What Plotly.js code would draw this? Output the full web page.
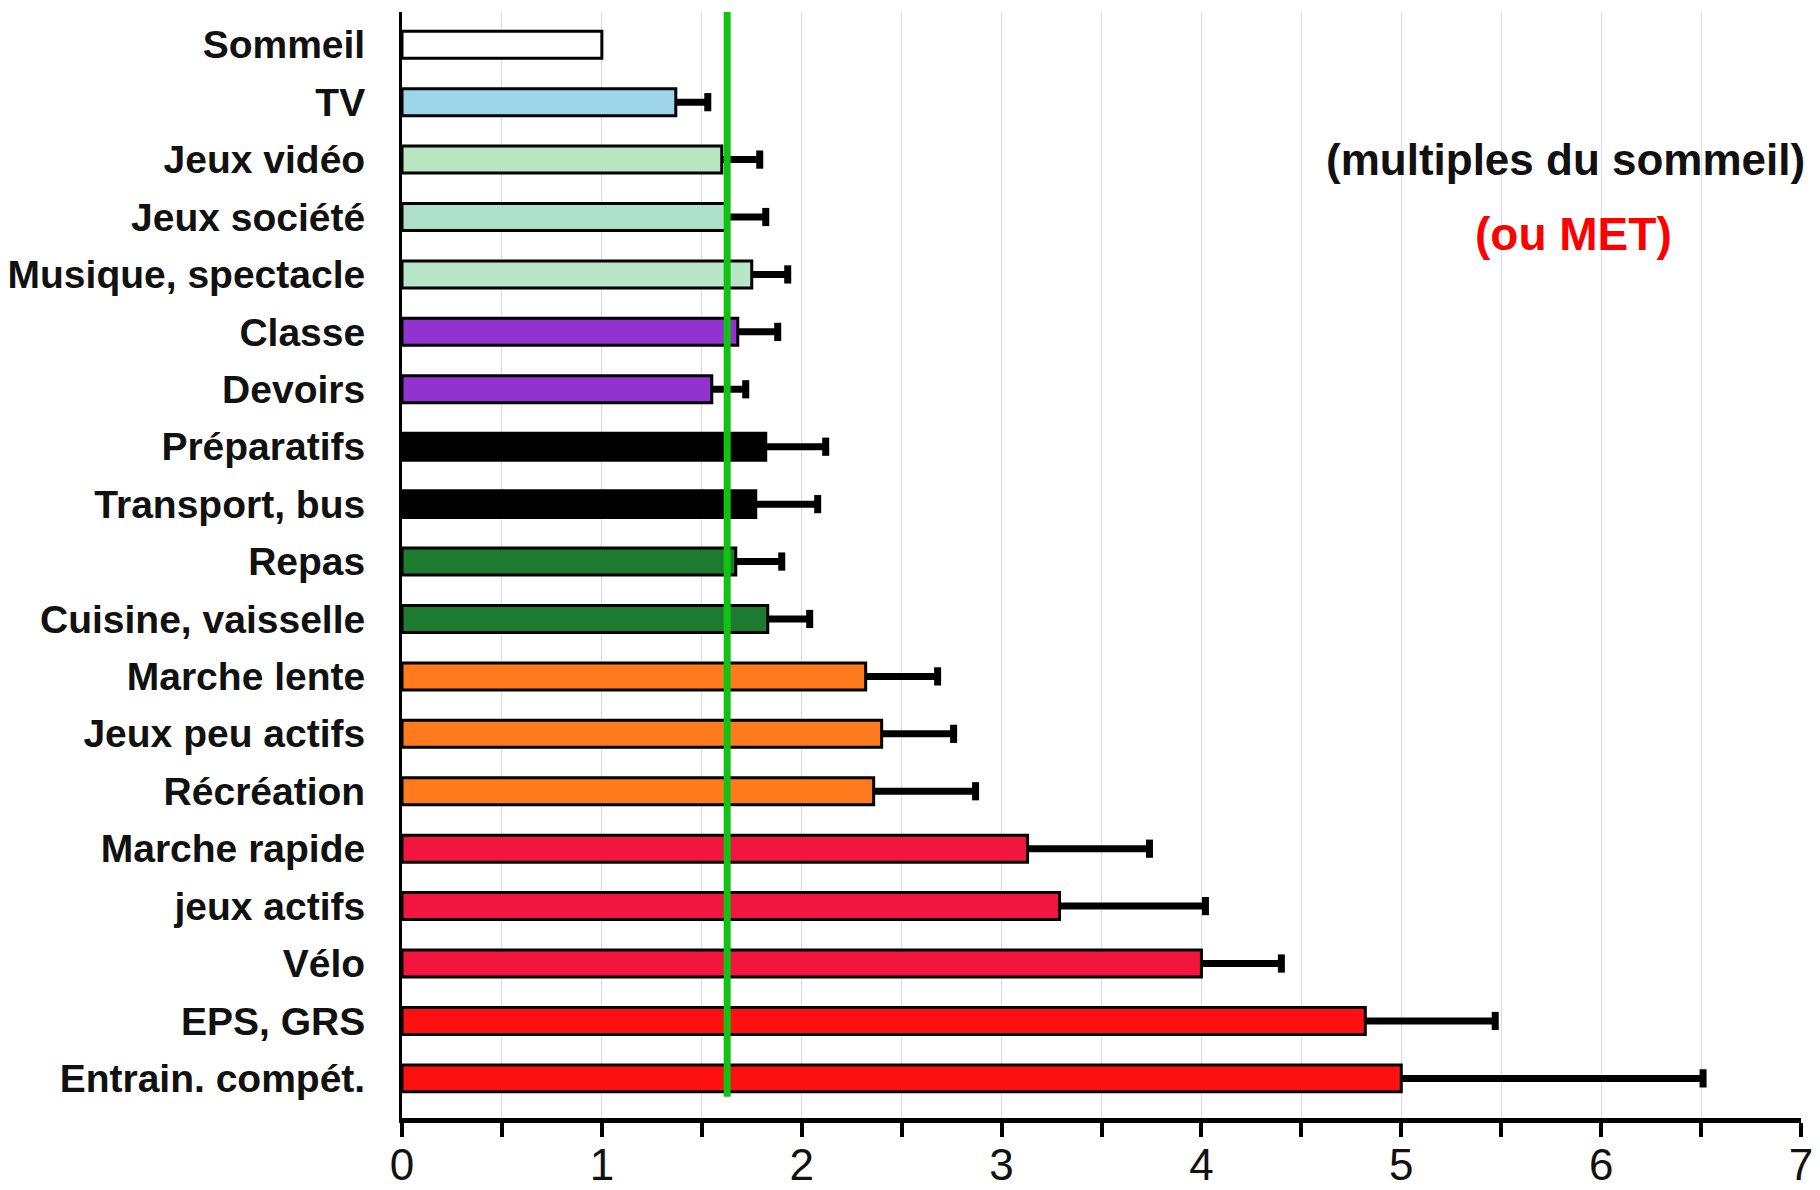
<!DOCTYPE html>
<html>
<head>
<meta charset="utf-8">
<script src="https://cdn.plot.ly/plotly-3.0.1.min.js"></script>
<style>
  html, body { margin: 0; padding: 0; background: #ffffff; }
  #chart { width: 1820px; height: 1190px; }
</style>
</head>
<body>
<div id="chart"></div>
<script>
// ---- Data ----
const categories = [
  "Sommeil", "TV", "Jeux vidéo", "Jeux société", "Musique, spectacle",
  "Classe", "Devoirs", "Préparatifs", "Transport, bus", "Repas",
  "Cuisine, vaisselle", "Marche lente", "Jeux peu actifs", "Récréation",
  "Marche rapide", "jeux actifs", "Vélo", "EPS, GRS", "Entrain. compét."
];
const values = [
  1.00, 1.37, 1.60, 1.63, 1.75,
  1.68, 1.55, 1.82, 1.77, 1.67,
  1.83, 2.32, 2.40, 2.36,
  3.13, 3.29, 4.00, 4.82, 5.00
];
const errorTop = [
  null, 1.53, 1.79, 1.82, 1.93,
  1.88, 1.72, 2.12, 2.08, 1.90,
  2.04, 2.68, 2.76, 2.87,
  3.74, 4.02, 4.40, 5.47, 6.51
];
const barColors = [
  "#ffffff", "#9fd5ea", "#b9e6c2", "#ade0cb", "#b8e6c8",
  "#9233cf", "#9233cf", "#000000", "#000000", "#1c7b2e",
  "#1c7b2e", "#ff7a1c", "#ff7a1c", "#ff7a1c",
  "#f2163f", "#f2163f", "#f2163f", "#ff1010", "#ff1010"
];
const tickVals = [0, 0.5, 1, 1.5, 2, 2.5, 3, 3.5, 4, 4.5, 5, 5.5, 6, 6.5, 7];
const tickText = ["0", "", "1", "", "2", "", "3", "", "4", "", "5", "", "6", "", "7"];
const referenceLine = 1.627;
const noteMain = "(multiples du sommeil)";
const noteMet = "(ou MET)";

// ---- Derived error-bar segments (from the bar end to the upper error value) ----
const errX = [], errY = [], capX = [], capY = [];
values.forEach((v, i) => {
  if (errorTop[i] === null) return;
  errX.push(v, errorTop[i], null);
  errY.push(categories[i], categories[i], null);
  capX.push(errorTop[i]);
  capY.push(categories[i]);
});

// ---- Layout geometry (pixels) ----
const W = 1820, H = 1190;
const M = { l: 402, r: 19, t: 12, b: 72 };
const plotW = W - M.l - M.r, plotH = H - M.t - M.b;
const px2paperX = x => (x - M.l) / plotW;
const px2paperY = y => 1 - (y - M.t) / plotH;

const font = "Liberation Sans, Arial, Helvetica, sans-serif";

const bars = {
  type: "bar",
  orientation: "h",
  y: categories,
  x: values,
  width: 0.47,
  marker: {
    color: barColors,
    line: { color: "#000000", width: 3 }
  },
  hoverinfo: "x+y"
};

const errLines = {
  type: "scatter",
  mode: "lines",
  x: errX,
  y: errY,
  connectgaps: false,
  line: { color: "#000000", width: 7 },
  hoverinfo: "skip"
};

const errCaps = {
  type: "scatter",
  mode: "markers",
  x: capX,
  y: capY,
  marker: {
    symbol: "line-ns",
    size: 13,
    color: "#000000",
    line: { color: "#000000", width: 7 }
  },
  hoverinfo: "skip"
};

const layout = {
  width: W,
  height: H,
  margin: M,
  paper_bgcolor: "#ffffff",
  plot_bgcolor: "#ffffff",
  showlegend: false,
  bargap: 0.53,
  font: { family: font, color: "#111111" },
  xaxis: {
    range: [0, 7],
    tickmode: "array",
    tickvals: tickVals,
    ticktext: tickText,
    ticks: "outside",
    ticklen: 14,
    tickwidth: 4,
    tickcolor: "#000000",
    ticklabelstandoff: -10,
    tickfont: { family: font, size: 44, color: "#111111" },
    showgrid: true,
    gridcolor: "#dcdcdc",
    gridwidth: 1,
    zeroline: false,
    showline: true,
    linecolor: "#000000",
    linewidth: 5,
    fixedrange: true
  },
  yaxis: {
    type: "category",
    categoryorder: "array",
    categoryarray: categories,
    range: [18.69, -0.57],
    ticks: "",
    ticklabelstandoff: 26,
    tickfont: { family: font, size: 39, color: "#111111", weight: "bold" },
    showgrid: false,
    zeroline: false,
    showline: true,
    linecolor: "#000000",
    linewidth: 3,
    fixedrange: true
  },
  shapes: [
    {
      type: "line",
      xref: "x", yref: "y",
      x0: referenceLine, x1: referenceLine,
      y0: -0.57, y1: 18.32,
      line: { color: "#12c212", width: 7 },
      layer: "above"
    }
  ],
  annotations: [
    {
      text: noteMain,
      xref: "paper", yref: "paper",
      x: px2paperX(1565), y: px2paperY(159),
      xanchor: "center", yanchor: "middle",
      showarrow: false,
      font: { family: font, size: 44, color: "#111111", weight: "bold" }
    },
    {
      text: noteMet,
      xref: "paper", yref: "paper",
      x: px2paperX(1573), y: px2paperY(234),
      xanchor: "center", yanchor: "middle",
      showarrow: false,
      font: { family: font, size: 46, color: "#ff0000", weight: "bold" }
    }
  ]
};

Plotly.newPlot("chart", [bars, errLines, errCaps], layout, { displayModeBar: false, staticPlot: true });
</script>
</body>
</html>
